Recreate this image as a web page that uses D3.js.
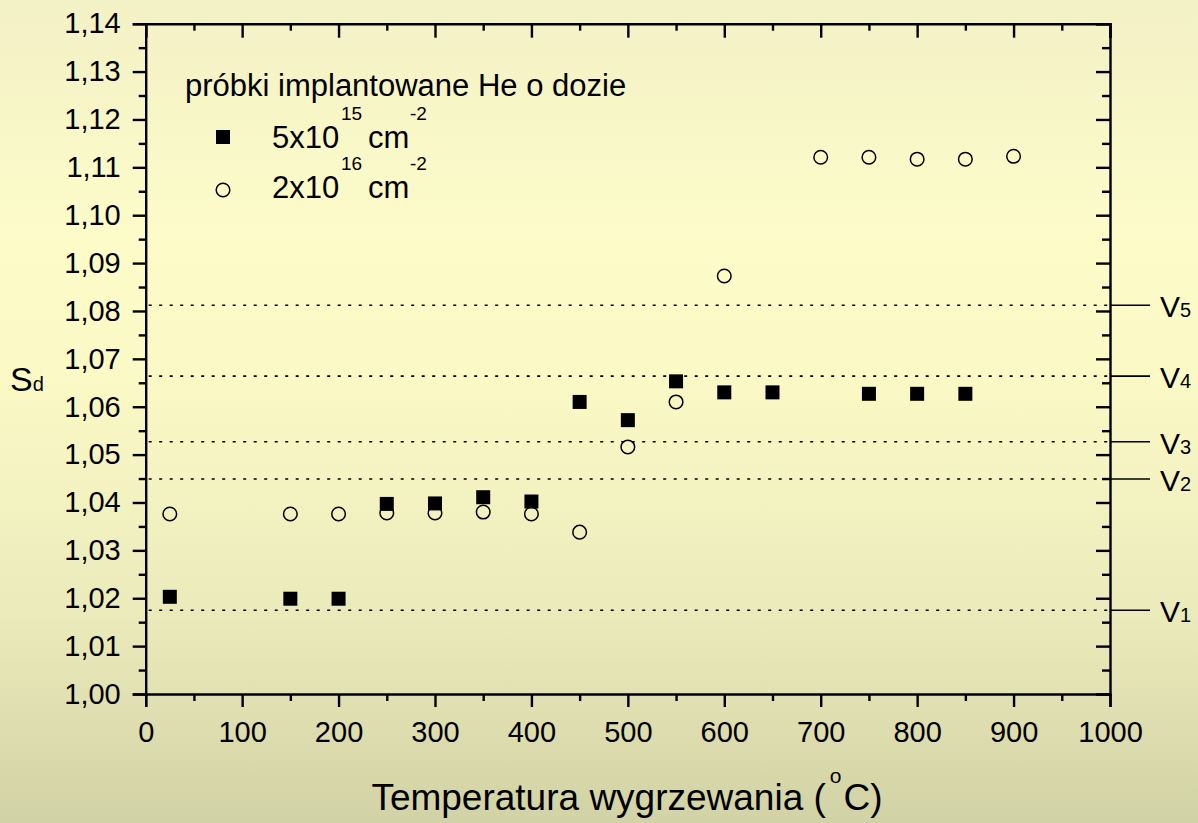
<!DOCTYPE html>
<html>
<head>
<meta charset="utf-8">
<script src="https://cdn.jsdelivr.net/npm/d3@7"></script>
<style>
  html, body { margin: 0; padding: 0; }
  body { width: 1198px; height: 823px; overflow: hidden; }
  svg { display: block; font-family: "Liberation Sans", Arial, sans-serif; }
</style>
</head>
<body>
<svg id="chart" width="1198" height="823"></svg>
<script>
// Annealing temperature (°C) and S-parameter, dose 5x10^15 cm^-2 (filled squares)
const tempLowDose = [25, 150, 200, 250, 300, 350, 400, 450, 500, 550, 600, 650, 750, 800, 850];
const sLowDose = [1.0203, 1.0199, 1.0199, 1.0397, 1.0398, 1.0411, 1.0402, 1.0610, 1.0572, 1.0653, 1.0630, 1.0630, 1.0627, 1.0627, 1.0627];

// Dose 2x10^16 cm^-2 (open circles)
const tempHighDose = [25, 150, 200, 250, 300, 350, 400, 450, 500, 550, 600, 700, 750, 800, 850, 900];
const sHighDose = [1.0376, 1.0376, 1.0376, 1.0378, 1.0378, 1.0380, 1.0376, 1.0338, 1.0516, 1.0610, 1.0873, 1.1121, 1.1121, 1.1117, 1.1117, 1.1123];

// Reference S levels of vacancy clusters
const vacancyLabels = ["1", "2", "3", "4", "5"];
const vacancyLevels = [1.0175, 1.0449, 1.0527, 1.0664, 1.0812];

// Axis ticks
const xTicks = [0, 100, 200, 300, 400, 500, 600, 700, 800, 900, 1000];
const yTicks = [1.00, 1.01, 1.02, 1.03, 1.04, 1.05, 1.06, 1.07, 1.08, 1.09, 1.10, 1.11, 1.12, 1.13, 1.14];

const svg = d3.select("#chart");
const W = 1198, H = 823;

// Background gradient
const defs = svg.append("defs");
const grad = defs.append("linearGradient").attr("id", "bg").attr("x1", 0).attr("y1", 0).attr("x2", 0).attr("y2", 1);
[[0, "#f3f1c6"], [0.3, "#fdfcc9"], [0.45, "#fbfac6"], [0.75, "#ebeabb"], [1, "#d1d2a5"]]
  .forEach(([o, c]) => grad.append("stop").attr("offset", o).attr("stop-color", c));
svg.append("rect").attr("width", W).attr("height", H).attr("fill", "url(#bg)");

const x = d3.scaleLinear().domain([0, 1000]).range([145.7, 1110]);
const y = d3.scaleLinear().domain([1.00, 1.14]).range([694, 23.7]);

const fmtY = v => d3.format(".2f")(v).replace(".", ",");
const axisW = 2.4;

// Minor ticks
const xMinor = d3.range(50, 1000, 100);
const yMinor = d3.range(1.005, 1.14, 0.01);

function styleAxis(g) {
  g.select(".domain").attr("stroke", "#000").attr("stroke-width", axisW);
  g.selectAll(".tick line").attr("stroke", "#000").attr("stroke-width", axisW);
  g.selectAll(".tick text").attr("fill", "#000").attr("font-size", 29)
    .attr("font-family", '"Liberation Sans", Arial, sans-serif');
}

// Bottom axis
const gx = svg.append("g").attr("transform", `translate(0,${y(1.00)})`)
  .call(d3.axisBottom(x).tickValues(xTicks).tickFormat(d3.format("d")).tickSizeOuter(0).tickSize(13).tickPadding(14));
styleAxis(gx);
svg.append("g").attr("transform", `translate(0,${y(1.00)})`)
  .call(d3.axisBottom(x).tickValues(xMinor).tickFormat("").tickSizeOuter(0).tickSize(7))
  .call(g => g.select(".domain").remove())
  .selectAll("line").attr("stroke", "#000").attr("stroke-width", axisW);

// Top axis (ticks inward)
svg.append("g").attr("transform", `translate(0,${y(1.14)})`)
  .call(d3.axisBottom(x).tickValues(xTicks).tickFormat("").tickSizeOuter(0).tickSize(14))
  .call(styleAxis);
svg.append("g").attr("transform", `translate(0,${y(1.14)})`)
  .call(d3.axisBottom(x).tickValues(xMinor).tickFormat("").tickSizeOuter(0).tickSize(7))
  .call(g => g.select(".domain").remove())
  .selectAll("line").attr("stroke", "#000").attr("stroke-width", axisW);

// Left axis
const gy = svg.append("g").attr("transform", `translate(${x(0)},0)`)
  .call(d3.axisLeft(y).tickValues(yTicks).tickFormat(fmtY).tickSizeOuter(0).tickSize(13).tickPadding(12));
styleAxis(gy);
svg.append("g").attr("transform", `translate(${x(0)},0)`)
  .call(d3.axisLeft(y).tickValues(yMinor).tickFormat("").tickSizeOuter(0).tickSize(7))
  .call(g => g.select(".domain").remove())
  .selectAll("line").attr("stroke", "#000").attr("stroke-width", axisW);

// Right axis (ticks inward)
svg.append("g").attr("transform", `translate(${x(1000)},0)`)
  .call(d3.axisRight(y).tickValues(yTicks).tickFormat("").tickSizeOuter(0).tickSize(-14))
  .call(styleAxis);
svg.append("g").attr("transform", `translate(${x(1000)},0)`)
  .call(d3.axisRight(y).tickValues(yMinor).tickFormat("").tickSizeOuter(0).tickSize(-8))
  .call(g => g.select(".domain").remove())
  .selectAll("line").attr("stroke", "#000").attr("stroke-width", axisW);

// Vacancy levels: dotted lines, outer markers and labels
const lv = svg.append("g");
lv.selectAll("line.dot").data(vacancyLevels).join("line")
  .attr("x1", x(0) + 3).attr("x2", x(1000))
  .attr("y1", d => y(d)).attr("y2", d => y(d))
  .attr("stroke", "#000").attr("stroke-width", 1.6).attr("stroke-dasharray", "3,7.5");
lv.selectAll("line.mark").data(vacancyLevels).join("line")
  .attr("x1", x(1000)).attr("x2", x(1000) + 40)
  .attr("y1", d => y(d)).attr("y2", d => y(d))
  .attr("stroke", "#000").attr("stroke-width", 1.6);
const vt = lv.selectAll("text").data(vacancyLevels).join("text")
  .attr("x", x(1000) + 50).attr("y", d => y(d) + 12)
  .attr("font-size", 30).attr("fill", "#000");
vt.append("tspan").text("V");
vt.append("tspan").attr("font-size", 20).text((d, i) => vacancyLabels[i]);

// Data: open circles (high dose)
svg.append("g").selectAll("circle").data(tempHighDose).join("circle")
  .attr("cx", d => x(d)).attr("cy", (d, i) => y(sHighDose[i]))
  .attr("r", 6.8).attr("fill", "none").attr("stroke", "#000").attr("stroke-width", 1.5);

// Data: filled squares (low dose)
const sq = 14;
svg.append("g").selectAll("rect").data(tempLowDose).join("rect")
  .attr("x", d => x(d) - sq / 2).attr("y", (d, i) => y(sLowDose[i]) - sq / 2)
  .attr("width", sq).attr("height", sq).attr("fill", "#000");

// Legend
const lg = svg.append("g").attr("fill", "#000");
lg.append("text").attr("x", 185).attr("y", 96).attr("font-size", 31).text("próbki implantowane He o dozie");
lg.append("rect").attr("x", 223 - sq / 2).attr("y", 137 - sq / 2).attr("width", sq).attr("height", sq).attr("fill", "#000");
lg.append("circle").attr("cx", 223).attr("cy", 190).attr("r", 6.8).attr("fill", "none").attr("stroke", "#000").attr("stroke-width", 1.5);
function doseEntry(mant, expo, yb) {
  lg.append("text").attr("x", 272).attr("y", yb).attr("font-size", 31).text(mant + "x10");
  lg.append("text").attr("x", 341).attr("y", yb - 28).attr("font-size", 19).text(expo);
  lg.append("text").attr("x", 368).attr("y", yb).attr("font-size", 31).text("cm");
  lg.append("text").attr("x", 410).attr("y", yb - 28).attr("font-size", 19).text("-2");
}
doseEntry("5", "15", 148);
doseEntry("2", "16", 198);

// Axis titles
const xt = svg.append("text").attr("x", 627).attr("y", 810).attr("text-anchor", "middle")
  .attr("font-size", 37).attr("fill", "#000");
xt.append("tspan").text("Temperatura wygrzewania (");
xt.append("tspan").attr("font-size", 21).attr("dy", -27).attr("dx", 4).text("o");
xt.append("tspan").attr("dy", 27).attr("dx", 2).text("C)");

const yt = svg.append("text").attr("x", 10).attr("y", 391).attr("font-size", 34).attr("fill", "#000");
yt.append("tspan").text("S");
yt.append("tspan").attr("font-size", 20).text("d");
</script>
</body>
</html>
